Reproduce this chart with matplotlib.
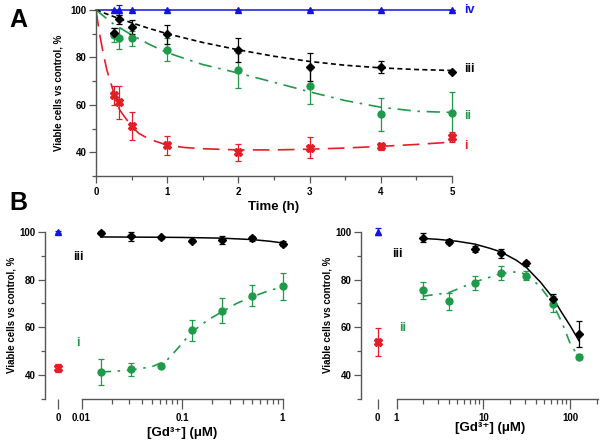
import numpy as np
import matplotlib
matplotlib.use("Agg")
import matplotlib.pyplot as plt
from matplotlib.ticker import MultipleLocator, FixedLocator, FixedFormatter, LogLocator, NullFormatter

plt.rcParams['font.family'] = ['Liberation Sans', 'DejaVu Sans']
plt.rcParams['font.weight'] = 'bold'

RED = '#e41e26'
GREEN = '#1f9a4a'
BLUE = '#1414e0'
BLACK = '#000000'
SPINE = '#555555'

# ---- panel A: time course ----
t_pts = [0.25, 0.33, 0.5, 1, 2, 3, 4, 5]
iv_vals = [100, 100, 100, 100, 100, 100, 100, 100]
iv_err = [0, 2, 0, 0, 0, 0, 0, 0]
iii_vals = [90.5, 96, 92.7, 89.7, 83, 76, 76, 74]
iii_err = [2, 2, 3, 4, 5, 6, 2.5, 0]
ii_vals = [89.5, 88, 88, 83.3, 74.5, 68, 56, 56.5]
ii_err = [3, 4.5, 3, 5, 7.5, 7.5, 7, 9]
i_vals = [64, 61, 51, 43, 40, 42, 42.6, 46.5]
i_err = [4, 7, 6, 4, 3.5, 4.5, 1.5, 2]

# fitted curves
iv_fit_t = [0, 5]
iv_fit = [100, 100]
iii_fit_t = [0, 0.25, 0.5, 0.75, 1, 1.5, 2, 2.5, 3, 3.5, 4, 4.5, 5]
iii_fit = [100, 97.2, 94.6, 92.2, 90, 86.3, 83.2, 80.5, 78.3, 76.7, 75.6, 74.9, 74.5]
ii_fit_t = [0, 0.25, 0.5, 0.75, 1, 1.5, 2, 2.5, 3, 3.5, 4, 4.5, 5]
ii_fit = [100, 94, 89.5, 85.5, 82, 77, 73.4, 69.5, 65.5, 61.8, 59, 57.3, 56.8]
i_fit_t = [0, 0.05, 0.1, 0.15, 0.2, 0.25, 0.33, 0.4, 0.5, 0.6, 0.75, 1.0, 1.25, 1.5,
           2, 2.5, 3, 3.5, 4, 4.5, 5]
i_fit = [100, 90, 82, 75, 70, 65, 58, 55, 51, 48, 45.5, 43, 42, 41.5,
         41, 41, 41.3, 41.8, 42.5, 43.3, 44.3]

# ---- panel B left: low Gd3+ ----
gd_low = [0.015625, 0.03125, 0.0625, 0.125, 0.25, 0.5, 1]
bl_iii_vals = [99.6, 98, 97.6, 96.3, 96.5, 97.2, 95]
bl_iii_err = [0.5, 2, 0.8, 0.8, 1.5, 1, 1]
bl_i_vals = [41.2, 42.4, 44, 58.7, 67, 73.2, 77.1]
bl_i_err = [5.5, 2.6, 1, 4.3, 5.4, 4.4, 5.8]
bl_fit_iii_x = [0.015625, 0.05, 0.1, 0.25, 0.5, 0.75, 1]
bl_fit_iii = [97.8, 97.7, 97.6, 97.3, 96.7, 96, 95.3]
bl_fit_i_x = [0.015625, 0.03, 0.05, 0.07, 0.09, 0.125, 0.18, 0.25, 0.35, 0.5, 0.7, 1]
bl_fit_i = [41.3, 42, 43.5, 46, 51, 58, 63, 66.5, 70, 72.8, 75, 77]
bl_ctrl = [100, 43]
bl_ctrl_err = [0.5, 1.5]

# ---- panel B right: high Gd3+ ----
gd_high = [2, 4, 8, 16, 31.25, 62.5, 125]
br_iii_vals = [97.5, 95.8, 92.7, 90.9, 86.8, 72, 57.2]
br_iii_err = [2, 1, 1.2, 2, 1, 2, 5.5]
br_ii_vals = [75.4, 70.8, 78.5, 82.6, 81.6, 69.7, 47.7]
br_ii_err = [3.5, 3.5, 3, 3, 2, 3.5, 1]
br_fit_iii_x = [2, 3, 5, 8, 12, 16, 24, 31.25, 45, 62.5, 80, 100, 125]
br_fit_iii = [97.2, 96.8, 96, 94.8, 93, 91.5, 88, 85, 79, 72.5, 66, 60.5, 54.5]
br_fit_ii_x = [2, 4, 8, 16, 25, 31.25, 45, 62.5, 80, 100, 125]
br_fit_ii = [73, 74.5, 79, 82.5, 83.3, 82, 77, 70, 62, 53, 47.5]
br_ctrl = [100, 54]
br_ctrl_err = [1.5, 5.8]

W, H = 604, 442
fig = plt.figure(figsize=(W / 100, H / 100), dpi=100)


def box(x0, y0, x1, y1):
    return [x0 / W, 1 - y1 / H, (x1 - x0) / W, (y1 - y0) / H]


def style_y(ax):
    ax.set_ylim(30, 100)
    ax.yaxis.set_major_locator(MultipleLocator(20))
    ax.yaxis.set_minor_locator(MultipleLocator(10))
    ax.tick_params(axis='y', which='major', length=5, width=0.9, color=SPINE, labelsize=7, pad=2)
    ax.tick_params(axis='y', which='minor', length=3, width=0.9, color=SPINE)


def errpts(ax, x, y, e, color, marker, ms):
    ax.errorbar(x, y, yerr=e, fmt=marker, color=color, ms=ms, mec=color,
                elinewidth=0.9, capsize=2, capthick=0.9, clip_on=False, zorder=4)


# ---------------- Panel A ----------------
axA = fig.add_axes(box(96, 10, 452, 176))
axA.set_xlim(0, 5)
style_y(axA)
for s in ['top', 'right']:
    axA.spines[s].set_visible(False)
for s in ['left', 'bottom']:
    axA.spines[s].set_color(SPINE)
    axA.spines[s].set_linewidth(1.0)
axA.xaxis.set_major_locator(MultipleLocator(1))
axA.xaxis.set_minor_locator(MultipleLocator(0.5))
axA.tick_params(axis='x', which='major', length=5, width=0.9, color=SPINE, labelsize=7, pad=3)
axA.tick_params(axis='x', which='minor', length=3, width=0.9, color=SPINE)

axA.plot(iv_fit_t, iv_fit, color=BLUE, lw=1.1, clip_on=False)
axA.plot(iii_fit_t, iii_fit, color=BLACK, lw=1.2, dashes=(3, 2))
axA.plot(ii_fit_t, ii_fit, color=GREEN, lw=1.2, dashes=(8, 4, 1.5, 4))
axA.plot(i_fit_t, i_fit, color=RED, lw=1.2, dashes=(10, 5))

errpts(axA, t_pts, iv_vals, iv_err, BLUE, '^', 5)
errpts(axA, t_pts, ii_vals, ii_err, GREEN, 'o', 5)
errpts(axA, t_pts, iii_vals, iii_err, BLACK, 'D', 4.5)
errpts(axA, t_pts, i_vals, i_err, RED, 'X', 6)

axA.set_ylabel('Viable cells vs control, %', fontsize=7, fontweight='bold', labelpad=5)
axA.set_xlabel('Time (h)', fontsize=9.5, fontweight='bold', labelpad=3)

for lab, yv, col in [('iv', 100, BLUE), ('iii', 75, BLACK), ('ii', 55.3, GREEN), ('i', 42.6, RED)]:
    axA.text(5.17, yv, lab, color=col, fontsize=9, fontweight='bold',
             va='center', ha='left', clip_on=False)


# ---------------- Panel B ----------------
def panel_b(spine_x, zero_x, log_x0, log_x1, xlim, majors, major_labels):
    half = zero_x - spine_x
    ax0 = fig.add_axes(box(spine_x, 231.7, zero_x + half, 399))
    ax0.set_xlim(-1, 1)
    style_y(ax0)
    for s in ['top', 'right', 'bottom']:
        ax0.spines[s].set_visible(False)
    ax0.spines['left'].set_color(SPINE)
    ax0.spines['left'].set_linewidth(1.0)
    ax0.set_xticks([0])
    ax0.set_xticklabels(['0'])
    ax0.tick_params(axis='x', length=7, width=0.9, color=SPINE, labelsize=7, pad=3)
    ax0.patch.set_visible(False)

    ax1 = fig.add_axes(box(log_x0, 231.7, log_x1, 399))
    ax1.set_xscale('log')
    ax1.set_xlim(*xlim)
    ax1.set_ylim(30, 100)
    for s in ['top', 'right', 'left']:
        ax1.spines[s].set_visible(False)
    ax1.spines['bottom'].set_color(SPINE)
    ax1.spines['bottom'].set_linewidth(1.0)
    ax1.set_yticks([])
    ax1.xaxis.set_major_locator(FixedLocator(majors))
    ax1.xaxis.set_major_formatter(FixedFormatter(major_labels))
    ax1.xaxis.set_minor_locator(LogLocator(base=10, subs=np.arange(2, 10)))
    ax1.xaxis.set_minor_formatter(NullFormatter())
    ax1.tick_params(axis='x', which='major', length=7, width=0.9, color=SPINE, labelsize=7, pad=3)
    ax1.tick_params(axis='x', which='minor', length=3.5, width=0.9, color=SPINE)
    ax1.patch.set_visible(False)
    return ax0, ax1


# left
bl0, bl1 = panel_b(45, 58.3, 81.5, 282.5, (0.01, 1), [0.01, 0.1, 1], ['0.01', '0.1', '1'])
errpts(bl0, [0], [bl_ctrl[0]], [bl_ctrl_err[0]], BLUE, '^', 5)
errpts(bl0, [0], [bl_ctrl[1]], [bl_ctrl_err[1]], RED, 'X', 6)
bl1.plot(bl_fit_iii_x, bl_fit_iii, color=BLACK, lw=1.1)
bl1.plot(bl_fit_i_x, bl_fit_i, color=GREEN, lw=1.2, dashes=(6, 4, 1.5, 4))
errpts(bl1, gd_low, bl_i_vals, bl_i_err, GREEN, 'o', 5)
errpts(bl1, gd_low, bl_iii_vals, bl_iii_err, BLACK, 'D', 4.5)
bl0.set_ylabel('Viable cells vs control, %', fontsize=7, fontweight='bold', labelpad=2)
bl1.set_xlabel('[Gd³⁺] (μM)', fontsize=9.5, fontweight='bold', labelpad=3)
fig.text(78 / W, 1 - 257 / H, 'iii', color=BLACK, fontsize=9, fontweight='bold', ha='center', va='center')
fig.text(78 / W, 1 - 343 / H, 'i', color=GREEN, fontsize=9, fontweight='bold', ha='center', va='center')

# right
br0, br1 = panel_b(361, 377.7, 396.5, 597.5, (1, 205), [1, 10, 100], ['1', '10', '100'])
errpts(br0, [0], [br_ctrl[0]], [br_ctrl_err[0]], BLUE, '^', 5)
errpts(br0, [0], [br_ctrl[1]], [br_ctrl_err[1]], RED, 'X', 6)
br1.plot(br_fit_iii_x, br_fit_iii, color=BLACK, lw=1.1)
br1.plot(br_fit_ii_x, br_fit_ii, color=GREEN, lw=1.2, dashes=(6, 4, 1.5, 4))
errpts(br1, gd_high, br_ii_vals, br_ii_err, GREEN, 'o', 5)
errpts(br1, gd_high, br_iii_vals, br_iii_err, BLACK, 'D', 4.5)
br0.set_ylabel('Viable cells vs control, %', fontsize=7, fontweight='bold', labelpad=2)
br1.set_xlabel('[Gd³⁺] (μM)', fontsize=9.5, fontweight='bold', labelpad=3)
br1.xaxis.set_label_coords(0.465, -0.135)
fig.text(397 / W, 1 - 254 / H, 'iii', color=BLACK, fontsize=9, fontweight='bold', ha='center', va='center')
fig.text(403 / W, 1 - 328 / H, 'ii', color=GREEN, fontsize=9, fontweight='bold', ha='center', va='center')

# panel letters
fig.text(18 / W, 1 - 20 / H, 'A', fontsize=18, fontweight='bold', ha='center', va='center')
fig.text(18 / W, 1 - 203 / H, 'B', fontsize=18, fontweight='bold', ha='center', va='center')

fig.savefig('out.png', dpi=100)
